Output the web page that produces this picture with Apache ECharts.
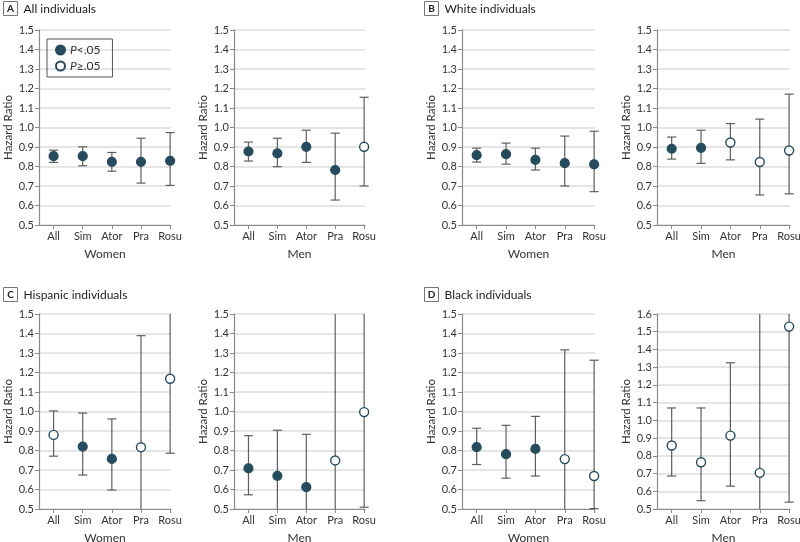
<!DOCTYPE html>
<html>
<head>
<meta charset="utf-8">
<script src="https://cdn.jsdelivr.net/npm/echarts@6/dist/echarts.min.js"></script>
<style>html,body{margin:0;padding:0;background:#fff}#c{width:800px;height:542px}</style>
</head>
<body>
<div id="c"></div>
<script>
// ---------- data ----------
const categories = ['All', 'Sim', 'Ator', 'Pra', 'Rosu'];
const yTickMaxDefault = 1.5;
const yTickMaxBlackMen = 1.6;

// A: All individuals
const aWomenHR = [0.853, 0.853, 0.824, 0.824, 0.829];
const aWomenLo = [0.821, 0.804, 0.776, 0.715, 0.703];
const aWomenHi = [0.884, 0.901, 0.872, 0.945, 0.974];
const aWomenSig = [1, 1, 1, 1, 1];
const aMenHR = [0.877, 0.867, 0.901, 0.782, 0.901];
const aMenLo = [0.828, 0.799, 0.821, 0.628, 0.700];
const aMenHi = [0.925, 0.945, 0.986, 0.971, 1.155];
const aMenSig = [1, 1, 1, 1, 0];

// B: White individuals
const bWomenHR = [0.858, 0.863, 0.834, 0.817, 0.811];
const bWomenLo = [0.823, 0.812, 0.782, 0.700, 0.671];
const bWomenHi = [0.894, 0.920, 0.894, 0.956, 0.981];
const bWomenSig = [1, 1, 1, 1, 1];
const bMenHR = [0.891, 0.896, 0.923, 0.823, 0.882];
const bMenLo = [0.838, 0.816, 0.834, 0.654, 0.660];
const bMenHi = [0.951, 0.986, 1.020, 1.043, 1.171];
const bMenSig = [1, 1, 0, 0, 0];

// C: Hispanic individuals
const cWomenHR = [0.880, 0.820, 0.757, 0.817, 1.168];
const cWomenLo = [0.771, 0.674, 0.597, 0.470, 0.786];
const cWomenHi = [1.003, 0.992, 0.962, 1.389, 1.740];
const cWomenSig = [0, 1, 1, 0, 0];
const cMenHR = [0.708, 0.670, 0.612, 0.749, 0.997];
const cMenLo = [0.573, 0.460, 0.440, 0.450, 0.509];
const cMenHi = [0.876, 0.904, 0.883, 1.620, 1.960];
const cMenSig = [1, 1, 1, 0, 0];

// D: Black individuals
const dWomenHR = [0.817, 0.781, 0.808, 0.756, 0.669];
const dWomenLo = [0.728, 0.658, 0.669, 0.430, 0.502];
const dWomenHi = [0.914, 0.929, 0.975, 1.316, 1.263];
const dWomenSig = [1, 1, 1, 0, 0];
const dMenHR = [0.858, 0.764, 0.914, 0.704, 1.529];
const dMenLo = [0.686, 0.547, 0.629, 0.400, 0.539];
const dMenHi = [1.070, 1.070, 1.325, 1.800, 4.300];
const dMenSig = [0, 0, 0, 0, 0];

const panelTitles = [
  { letter: 'A', text: 'All individuals' },
  { letter: 'B', text: 'White individuals' },
  { letter: 'C', text: 'Hispanic individuals' },
  { letter: 'D', text: 'Black individuals' }
];
const legendLabels = ['P<.05', 'P≥.05'];

// ---------- layout ----------
const FONT = 'Lato, "Noto Sans", sans-serif';
const DARK = '#264b5c';
const BAR = '#5e5e5e';
const AXIS = '#8a8a8a';
const TXT = '#333';

const panels = [
  { left: 39,  top: 30,  width: 132, height: 195, ymax: yTickMaxDefault, xname: 'Women', hr: aWomenHR, lo: aWomenLo, hi: aWomenHi, sig: aWomenSig },
  { left: 234, top: 30,  width: 131, height: 195, ymax: yTickMaxDefault, xname: 'Men',   hr: aMenHR,   lo: aMenLo,   hi: aMenHi,   sig: aMenSig },
  { left: 462, top: 30,  width: 133, height: 195, ymax: yTickMaxDefault, xname: 'Women', hr: bWomenHR, lo: bWomenLo, hi: bWomenHi, sig: bWomenSig },
  { left: 657, top: 30,  width: 133, height: 195, ymax: yTickMaxDefault, xname: 'Men',   hr: bMenHR,   lo: bMenLo,   hi: bMenHi,   sig: bMenSig },
  { left: 39,  top: 314, width: 132, height: 195, ymax: yTickMaxDefault, xname: 'Women', hr: cWomenHR, lo: cWomenLo, hi: cWomenHi, sig: cWomenSig },
  { left: 234, top: 314, width: 131, height: 195, ymax: yTickMaxDefault, xname: 'Men',   hr: cMenHR,   lo: cMenLo,   hi: cMenHi,   sig: cMenSig },
  { left: 462, top: 314, width: 133, height: 195, ymax: yTickMaxDefault, xname: 'Women', hr: dWomenHR, lo: dWomenLo, hi: dWomenHi, sig: dWomenSig },
  { left: 657, top: 314, width: 133, height: 195, ymax: yTickMaxBlackMen, xname: 'Men',  hr: dMenHR,   lo: dMenLo,   hi: dMenHi,   sig: dMenSig }
];
const titlePos = [
  { x: 3, y: 1 }, { x: 424, y: 1 }, { x: 3, y: 287 }, { x: 424, y: 287 }
];

const grid = [], xAxis = [], yAxis = [], series = [];
const xVals = [1, 2, 3, 4, 5];
const YMIN = 0.5;

panels.forEach((p, i) => {
  grid.push({ left: p.left, top: p.top, width: p.width, height: p.height, outerBoundsMode: 'none', containLabel: false });
  xAxis.push({
    type: 'value', gridIndex: i, min: 0.5, max: 5.03,
    axisLine: { show: true, lineStyle: { color: AXIS, width: 1.2 } },
    axisTick: { show: true, customValues: xVals, length: 4, lineStyle: { color: AXIS } },
    axisLabel: { customValues: xVals, formatter: v => categories[Math.round(v) - 1] || '', color: TXT, fontSize: 11, fontFamily: FONT, margin: 6 },
    splitLine: { show: false },
    name: p.xname, nameLocation: 'middle', nameGap: 23,
    nameTextStyle: { color: TXT, fontSize: 12, fontFamily: FONT }
  });
  yAxis.push({
    type: 'value', gridIndex: i, min: YMIN, max: p.ymax, interval: 0.1,
    axisLine: { show: true, lineStyle: { color: AXIS, width: 1.2 } },
    axisTick: { show: true, length: 4, lineStyle: { color: AXIS } },
    axisLabel: { formatter: v => v.toFixed(1), color: TXT, fontSize: 11, fontFamily: FONT, margin: 5 },
    splitLine: { show: true, lineStyle: { color: '#dcdcdc', width: 1.5 } },
    name: 'Hazard Ratio', nameLocation: 'middle', nameGap: 25,
    nameTextStyle: { color: TXT, fontSize: 11.5, fontFamily: FONT }
  });
  series.push({
    type: 'custom', xAxisIndex: i, yAxisIndex: i, clip: false, z: 2,
    data: xVals.map((x, k) => [x, p.lo[k], p.hi[k]]),
    renderItem: (params, api) => {
      const x = api.value(0);
      const lo = api.value(1), hi = api.value(2);
      const loC = Math.max(lo, YMIN), hiC = Math.min(hi, p.ymax);
      const a = api.coord([x, loC]);
      const b = api.coord([x, hiC]);
      const w = 4.5;
      const st = { stroke: BAR, lineWidth: 1.2 };
      const children = [
        { type: 'line', shape: { x1: a[0], y1: a[1], x2: b[0], y2: b[1] }, style: st }
      ];
      if (lo >= YMIN) children.push({ type: 'line', shape: { x1: a[0] - w, y1: a[1], x2: a[0] + w, y2: a[1] }, style: st });
      if (hi <= p.ymax) children.push({ type: 'line', shape: { x1: b[0] - w, y1: b[1], x2: b[0] + w, y2: b[1] }, style: st });
      return { type: 'group', children };
    }
  });
  series.push({
    type: 'scatter', name: legendLabels[0], xAxisIndex: i, yAxisIndex: i, z: 5,
    symbol: 'circle', symbolSize: 9,
    itemStyle: { color: DARK, borderColor: DARK, borderWidth: 1.2, opacity: 1 },
    data: xVals.map((x, k) => [x, p.hr[k], p.sig[k]]).filter(d => d[2] === 1).map(d => [d[0], d[1]])
  });
  series.push({
    type: 'scatter', name: legendLabels[1], xAxisIndex: i, yAxisIndex: i, z: 5,
    symbol: 'circle', symbolSize: 9,
    itemStyle: { color: '#fff', borderColor: DARK, borderWidth: 1.4, opacity: 1 },
    data: xVals.map((x, k) => [x, p.hr[k], p.sig[k]]).filter(d => d[2] === 0).map(d => [d[0], d[1]])
  });
});

const graphic = [];
panelTitles.forEach((t, i) => {
  const pos = titlePos[i];
  graphic.push({
    type: 'group', left: pos.x, top: pos.y,
    children: [
      { type: 'rect', shape: { x: 0, y: 0, width: 14, height: 14 }, style: { fill: '#fff', stroke: '#777', lineWidth: 1 } },
      { type: 'text', x: 7, y: 7.5, style: { text: t.letter, font: 'bold 10px ' + FONT, fill: '#222', align: 'center', verticalAlign: 'middle' } },
      { type: 'text', x: 20, y: 7.5, style: { text: t.text, font: '12px ' + FONT, fill: '#222', align: 'left', verticalAlign: 'middle' } }
    ]
  });
});

const option = {
  animation: false,
  backgroundColor: '#fff',
  grid, xAxis, yAxis, series, graphic,
  legend: {
    left: 47, top: 39, orient: 'vertical', selectedMode: false,
    data: legendLabels, icon: 'circle', itemWidth: 9, itemHeight: 9, itemGap: 4,
    borderColor: '#555', borderWidth: 1, padding: [5, 12, 5, 8],
    formatter: name => '{i|P}{n|' + name.slice(1) + '}',
    textStyle: {
      color: TXT, fontSize: 12, fontFamily: FONT,
      rich: { i: { fontStyle: 'italic', fontSize: 12, fontFamily: FONT, color: TXT }, n: { fontSize: 12, fontFamily: FONT, color: TXT } }
    }
  }
};

const chart = echarts.init(document.getElementById('c'), null, { renderer: 'canvas' });
chart.setOption(option);
</script>
</body>
</html>
